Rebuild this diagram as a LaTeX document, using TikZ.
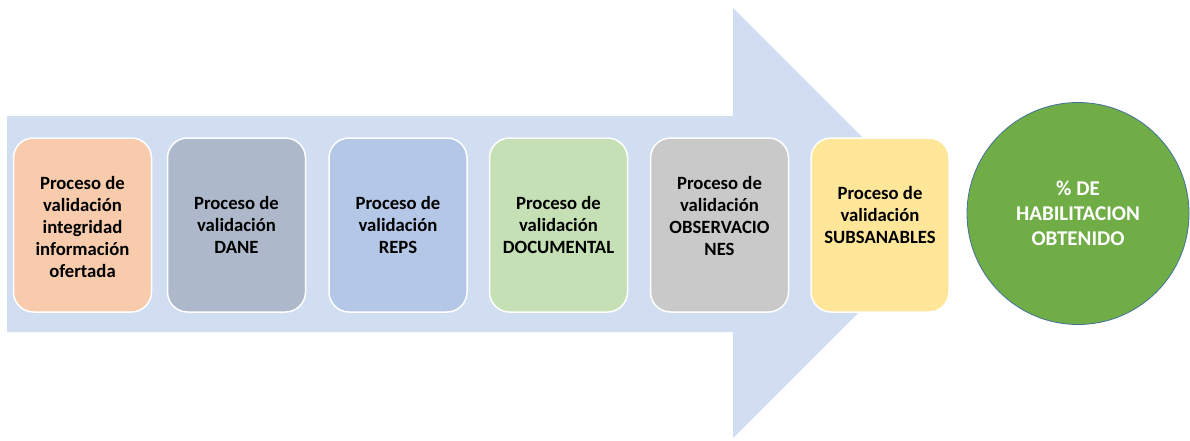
\documentclass[tikz,border=0pt]{standalone}
\usepackage{fontspec}
\setmainfont{Carlito}
\definecolor{arrowc}{HTML}{D1DDF0}
\definecolor{c1}{HTML}{F8CBAD}
\definecolor{c2}{HTML}{ADB9CA}
\definecolor{c3}{HTML}{B4C7E7}
\definecolor{c4}{HTML}{C5E0B4}
\definecolor{c5}{HTML}{C9C9C9}
\definecolor{c6}{HTML}{FFE699}
\definecolor{cgreen}{HTML}{70AD47}
\definecolor{cborder}{HTML}{41719C}
\begin{document}
\begin{tikzpicture}[x=1pt,y=-1pt,
  stepbox/.style={rectangle, rounded corners=20pt, draw=white, line width=1.5pt,
    minimum width=138pt, minimum height=174pt, inner sep=0pt},
  txt/.style={align=center, font=\bfseries\fontsize{18.7}{22}\selectfont, inner sep=0pt},
  ctxt/.style={align=center, font=\bfseries\fontsize{21}{25}\selectfont, inner sep=0pt, text=white},
]
\useasboundingbox (0,0) rectangle (1190,440);
\fill[arrowc] (7,116) -- (733,116) -- (733,8) -- (948,223) -- (733,438) -- (733,332) -- (7,332) -- cycle;
\node[stepbox, fill=c1] (b1) at (82.5,225) {};
\node[stepbox, fill=c2] (b2) at (236.5,225) {};
\node[stepbox, fill=c3] (b3) at (398,225) {};
\node[stepbox, fill=c4] (b4) at (558.5,225) {};
\node[stepbox, fill=c5] (b5) at (719.5,225) {};
\node[stepbox, fill=c6] (b6) at (880,225) {};
\node[txt] (t1) at ([yshift=-2pt]b1.center) {Proceso de\\validación\\integridad\\información\\ofertada};
\node[txt] (t2) at (b2.center) {Proceso de\\validación\\DANE};
\node[txt] (t3) at (b3.center) {Proceso de\\validación\\REPS};
\node[txt] (t4) at (b4.center) {Proceso de\\validación\\DOCUMENTAL};
\node[txt] (t5) at ([yshift=9pt]b5.center) {Proceso de\\validación\\OBSERVACIO\\NES};
\node[txt] (t6) at ([yshift=10pt]b6.center) {Proceso de\\validación\\SUBSANABLES};
\node[circle, fill=cgreen, draw=cborder, line width=0.8pt, minimum size=222pt, inner sep=0pt] (c) at (1078,213.5) {};
\node[ctxt] (tc) at (c.center) {\% DE\\HABILITACION\\OBTENIDO};
\end{tikzpicture}
\end{document}
